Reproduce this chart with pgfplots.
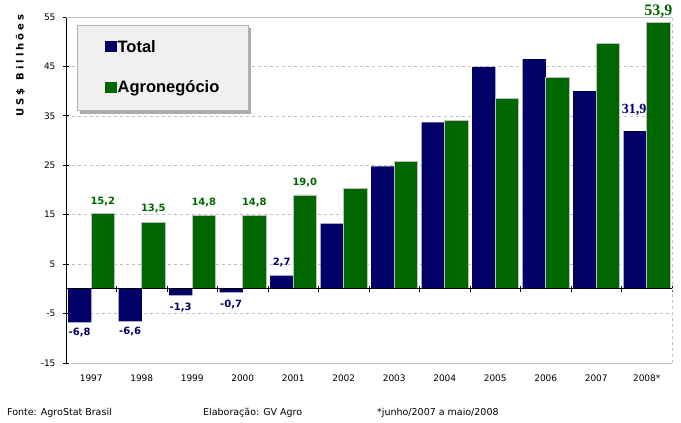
\documentclass[border=0pt]{standalone}
\usepackage{fontspec}
\setmainfont{DejaVu Sans}
\newfontfamily\serifnum{Liberation Serif}
\newfontfamily\legfont{Liberation Sans}
\usepackage{pgfplots}
\usepackage{pgfplotstable}
\pgfplotsset{compat=1.18}
\usetikzlibrary{shadows}
\definecolor{navyc}{HTML}{000066}
\definecolor{greenc}{HTML}{006600}
\definecolor{gridc}{HTML}{C0C0C0}

\pgfplotstableread{
x total agro
0  -6.8 15.2
1  -6.6 13.5
2  -1.3 14.8
3  -0.7 14.8
4   2.7 19.0
5  13.2 20.3
6  24.8 25.8
7  33.7 34.1
8  44.9 38.5
9  46.5 42.7
10 40.0 49.7
11 31.9 53.9
}\data

\begin{document}
\begin{tikzpicture}
\useasboundingbox (0,0) rectangle (681pt,423pt);
\begin{axis}[
  at={(66pt,60pt)}, anchor=south west,
  width=606pt, height=346pt, scale only axis,
  xmin=-0.5, xmax=11.5, ymin=-15, ymax=55,
  axis x line=middle, axis y line=left,
  axis line style={-, black, line width=0.8pt},
  xtick={0.5,1.5,2.5,3.5,4.5,5.5,6.5,7.5,8.5,9.5,10.5,11.5}, xticklabels={},
  ytick={-15,-5,5,15,25,35,45,55},
  yticklabels={-15,-5,5,15,25,35,45,55},
  yticklabel style={font=\fontsize{9}{10}\selectfont, xshift=-4pt},
  tick align=center, major tick length=6pt,
  tick style={black, line width=0.8pt},
  ymajorgrids, grid style={gridc, dashed, line width=0.6pt},
  clip=false,
  legend style={at={(0,1)}, xshift=39pt, yshift=-22pt, anchor=north west,
    fill=none, draw=none, inner xsep=0pt, inner ysep=0pt,
    nodes={inner sep=1pt},
    font=\legfont\bfseries\fontsize{16.5}{18}\selectfont,
    row sep=25pt},
  legend cell align=left,
]
\addlegendimage{legend image code/.code={\fill[navyc] (0pt,-4.5pt) rectangle (11pt,5.5pt);}}
\addlegendentry{Total}
\addlegendimage{legend image code/.code={\fill[greenc] (0pt,-4.5pt) rectangle (11pt,5.5pt);}}
\addlegendentry{Agronegócio}

\addplot[ybar, bar width=0.46, bar shift=-0.23, fill=navyc, draw=none, forget plot] table[x=x, y=total] {\data};
\addplot[ybar, bar width=0.46, bar shift=0.23, fill=greenc, draw=gridc, line width=0.8pt, forget plot] table[x=x, y=agro] {\data};

\draw[black, line width=0.8pt] (axis cs:-0.5,0) -- (axis cs:11.5,0);
\draw[gridc, line width=0.8pt] (axis cs:-0.5,55) -- (axis cs:11.5,55);
\draw[gridc, line width=0.8pt] (axis cs:-0.4,-15) -- (axis cs:11.5,-15);
\draw[gridc, dashed, line width=0.6pt] (axis cs:11.5,-15) -- (axis cs:11.5,55);

% legend box
\draw[fill=gray!12, draw=gray!60, line width=0.6pt,
      drop shadow={shadow xshift=3.5pt, shadow yshift=-3.5pt, fill=gray!65, opacity=1}]
  (rel axis cs:0.01815,0.9769) rectangle (rel axis cs:0.3003,0.7312);

% value labels
\begin{scope}[every node/.style={font=\bfseries\fontsize{10}{12}\selectfont}]
\node[text=navyc] at (axis cs:-0.23,-8.8) {-6,8};
\node[text=navyc] at (axis cs:0.77,-8.7) {-6,6};
\node[text=navyc] at (axis cs:1.77,-3.8) {-1,3};
\node[text=navyc] at (axis cs:2.77,-3.2) {-0,7};
\node[text=navyc] at (axis cs:3.77,5.3) {2,7};
\node[text=greenc] at (axis cs:0.23,17.6) {15,2};
\node[text=greenc] at (axis cs:1.23,16.2) {13,5};
\node[text=greenc] at (axis cs:2.23,17.4) {14,8};
\node[text=greenc] at (axis cs:3.23,17.4) {14,8};
\node[text=greenc] at (axis cs:4.23,21.5) {19,0};
\end{scope}
\node[text=navyc, font=\serifnum\bfseries\fontsize{14}{16}\selectfont] at (axis cs:10.75,36.2) {31,9};
\node[text=greenc, font=\serifnum\bfseries\fontsize{16}{18}\selectfont] at (axis cs:11.23,56.1) {53,9};

% category labels
\begin{scope}[every node/.style={font=\fontsize{9}{10}\selectfont, yshift=-15pt}]
\node at (axis cs:0,-15) {1997};
\node at (axis cs:1,-15) {1998};
\node at (axis cs:2,-15) {1999};
\node at (axis cs:3,-15) {2000};
\node at (axis cs:4,-15) {2001};
\node at (axis cs:5,-15) {2002};
\node at (axis cs:6,-15) {2003};
\node at (axis cs:7,-15) {2004};
\node at (axis cs:8,-15) {2005};
\node at (axis cs:9,-15) {2006};
\node at (axis cs:10,-15) {2007};
\node at (axis cs:11,-15) {2008*};
\end{scope}
\end{axis}

\node[rotate=90, font=\bfseries\fontsize{10}{11}\selectfont\addfontfeatures{LetterSpace=30}] at (20.5pt,357.5pt) {US\$\hspace{8pt}Billhões};

\begin{scope}[every node/.style={anchor=west, font=\fontsize{9.5}{11}\selectfont, inner sep=0pt}]
\node at (7pt,10pt) {Fonte: AgroStat Brasil};
\node at (203pt,10pt) {Elaboração: GV Agro};
\node at (377pt,10pt) {*junho/2007 a maio/2008};
\end{scope}
\end{tikzpicture}
\end{document}
